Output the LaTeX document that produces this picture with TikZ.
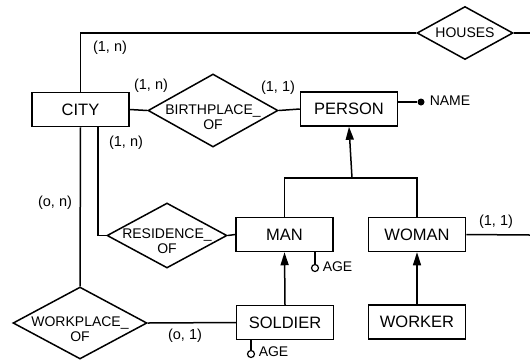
\documentclass[tikz,border=0pt]{standalone}
\usepackage{fontspec}
\setmainfont{Liberation Sans}
\usetikzlibrary{shapes.geometric,arrows.meta}
\begin{document}
\begin{tikzpicture}[x=1pt,y=-1pt,
  line width=1.5pt,
  entity/.style={draw,rectangle,inner sep=0pt,minimum width=97pt,minimum height=34pt,font=\fontsize{16.5}{18}\selectfont},
  rel/.style={draw,diamond,inner sep=0pt},
  reltext/.style={font=\fontsize{14}{15}\selectfont,align=center,inner sep=0pt},
  card/.style={font=\fontsize{14.5}{16}\selectfont,inner sep=0pt},
  attr/.style={font=\fontsize{14}{15}\selectfont,inner sep=0pt,anchor=west},
  isa/.style={-{Triangle[length=13pt,width=8pt]}}
]
\useasboundingbox (0,0) rectangle (530,360);

% entities
\node[entity] (city) at (80.5,109.5) {CITY};
\node[entity] (person) at (349,109) {PERSON};
\node[entity] (man) at (284.5,234.5) {MAN};
\node[entity] (woman) at (417,234.5) {WOMAN};
\node[entity] (soldier) at (285,322.5) {SOLDIER};
\node[entity] (worker) at (417,322) {WORKER};

% relationships
\node[rel,minimum width=96pt,minimum height=53pt] (houses) at (465,33) {};
\node[reltext] (housest) at (465,33) {HOUSES};
\node[rel,minimum width=130pt,minimum height=73pt] (birth) at (213,110.5) {};
\node[reltext] (birtht) at (213,117) {BIRTHPLACE\_\\OF};
\node[rel,minimum width=120pt,minimum height=65pt] (res) at (167,235.5) {};
\node[reltext] (rest) at (167,241) {RESIDENCE\_\\OF};
\node[rel,minimum width=134pt,minimum height=72pt] (work) at (80,323) {};
\node[reltext] (workt) at (80,329) {WORKPLACE\_\\OF};

% free ends
\coordinate (hright) at (530,33);
\coordinate (wright) at (530,235);
\coordinate (bar) at (352,178);

% attributes
\node[circle,fill,inner sep=0pt,minimum size=7pt] (namedot) at (421,102) {};
\node[attr] (namet) at (429,101) {NAME};
\node[circle,draw,fill=white,line width=1.2pt,inner sep=0pt,minimum size=7pt] (manage) at (315,268) {};
\node[attr] (managet) at (322,267) {AGE};
\node[circle,draw,fill=white,line width=1.2pt,inner sep=0pt,minimum size=7pt] (solage) at (251,354) {};
\node[attr] (solaget) at (258,352) {AGE};

% connectors
\draw (houses.west) -| (city.north);
\draw (houses.east) -- (hright);
\draw (city.east) -- (birth.west);
\draw (birth.east) -- (person.west);
\draw (namedot -| person.east) -- (namedot);
\draw ([xshift=17.5pt]city.south) |- (res.west);
\draw (city.south) -- (work.north);
\draw (res.east) -- (man.west);
\draw (work.east) -- (soldier.west);
\draw (woman.east) -- (wright);
\draw (man.north) |- (bar) -| (woman.north);
\draw[isa] (bar) -- (person.south);
\draw[isa] (soldier.north) -- (man.south);
\draw[isa] (worker.north) -- (woman.south);
\draw (manage.north |- man.south) -- (manage.north);
\draw (solage.north |- soldier.south) -- (solage.north);

% cardinalities
\node[card] (c1) at (110,48) {(1, n)};
\node[card] (c2) at (151,86) {(1, n)};
\node[card] (c3) at (278,88) {(1, 1)};
\node[card] (c4) at (126,143) {(1, n)};
\node[card] (c5) at (55,203) {(o, n)};
\node[card] (c6) at (185,336) {(o, 1)};
\node[card] (c7) at (496,222) {(1, 1)};
\end{tikzpicture}
\end{document}
